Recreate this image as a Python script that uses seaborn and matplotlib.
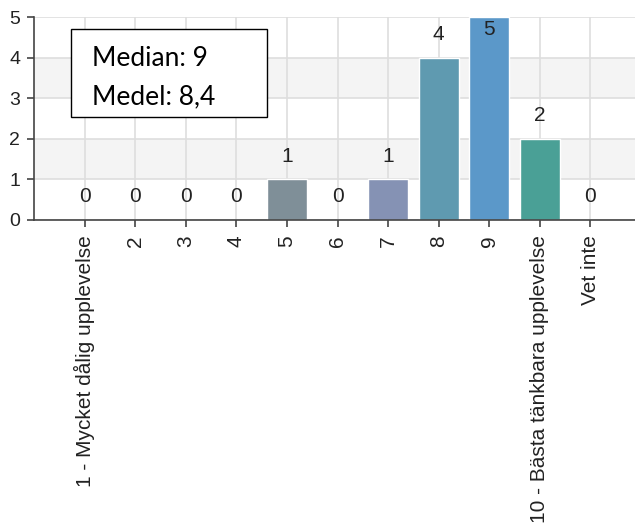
import matplotlib
matplotlib.use("Agg")
import matplotlib.pyplot as plt
import seaborn as sns
import pandas as pd

categories = ["1 - Mycket dålig upplevelse", "2", "3", "4", "5", "6", "7", "8", "9",
              "10 - Bästa tänkbara upplevelse", "Vet inte"]
counts = [0, 0, 0, 0, 1, 0, 1, 4, 5, 2, 0]
bar_colors = ["#7f8f98", "#7f8f98", "#7f8f98", "#7f8f98", "#7f8f98", "#7f8f98",
              "#8592b4", "#5f9ab0", "#5b98c9", "#4aa096", "#4aa096"]
stats_lines = ["Median: 9", "Medel: 8,4"]

sns.set_theme(style="white")
plt.rcParams["font.family"] = ["Liberation Sans", "DejaVu Sans"]

df = pd.DataFrame({"cat": categories, "n": counts})

fig = plt.figure(figsize=(6.35, 5.30), dpi=100)
ax = fig.add_axes([34 / 635, 1 - 220 / 530, 1 - 34 / 635, 203 / 530])

# alternating background bands and grid
for lo in (1, 3):
    ax.axhspan(lo, lo + 1, color="#f4f4f4", zorder=0, lw=0)
for y in range(0, 6):
    ax.axhline(y, color="#dedede", lw=1.2, zorder=0.5)
for i in range(len(categories)):
    ax.axvline(i, color="#dedede", lw=1.2, zorder=0.5)

sns.barplot(data=df, x="cat", y="n", hue="cat", palette=bar_colors, legend=False,
            width=0.79, saturation=1, ax=ax, zorder=2)

ax.set_xlim(-1.0, 10.88)
ax.set_ylim(0, 5)
ax.set_xlabel("")
ax.set_ylabel("")
ax.set_yticks(range(0, 6))
ax.set_yticklabels([str(v) for v in range(0, 6)], fontsize=14, color="#222222")
ax.set_xticks(range(len(categories)))
ax.set_xticklabels(categories, rotation=90, fontsize=15, color="#222222")
ax.tick_params(axis="both", which="both", length=5, width=1.2, color="#444444",
               direction="out", left=True, bottom=True)
ax.tick_params(axis="x", pad=6)
ax.tick_params(axis="y", pad=5)

for side in ("top", "right"):
    ax.spines[side].set_visible(False)
for side in ("left", "bottom"):
    ax.spines[side].set_color("#444444")
    ax.spines[side].set_linewidth(1.2)
    ax.spines[side].set_zorder(3)

# value labels
for i, v in enumerate(counts):
    if v >= 5:
        ax.text(i, v - 0.32, str(v), ha="center", va="center", fontsize=15,
                color="#222222", zorder=4)
    else:
        ax.text(i, v + 0.57, str(v), ha="center", va="center", fontsize=15,
                color="#222222", zorder=4)

# summary box
fig.patches.append(plt.Rectangle((71 / 635, 1 - 117 / 530), 196 / 635, 88 / 530,
                                 transform=fig.transFigure, facecolor="white",
                                 edgecolor="black", lw=1.0, zorder=5))
fig.text(92 / 635, 1 - 58 / 530, stats_lines[0], fontsize=19, family=["Lato", "DejaVu Sans"],
         va="center", ha="left", color="black", zorder=6)
fig.text(92 / 635, 1 - 97 / 530, stats_lines[1], fontsize=19, family=["Lato", "DejaVu Sans"],
         va="center", ha="left", color="black", zorder=6)

fig.savefig("out.png", dpi=100)
